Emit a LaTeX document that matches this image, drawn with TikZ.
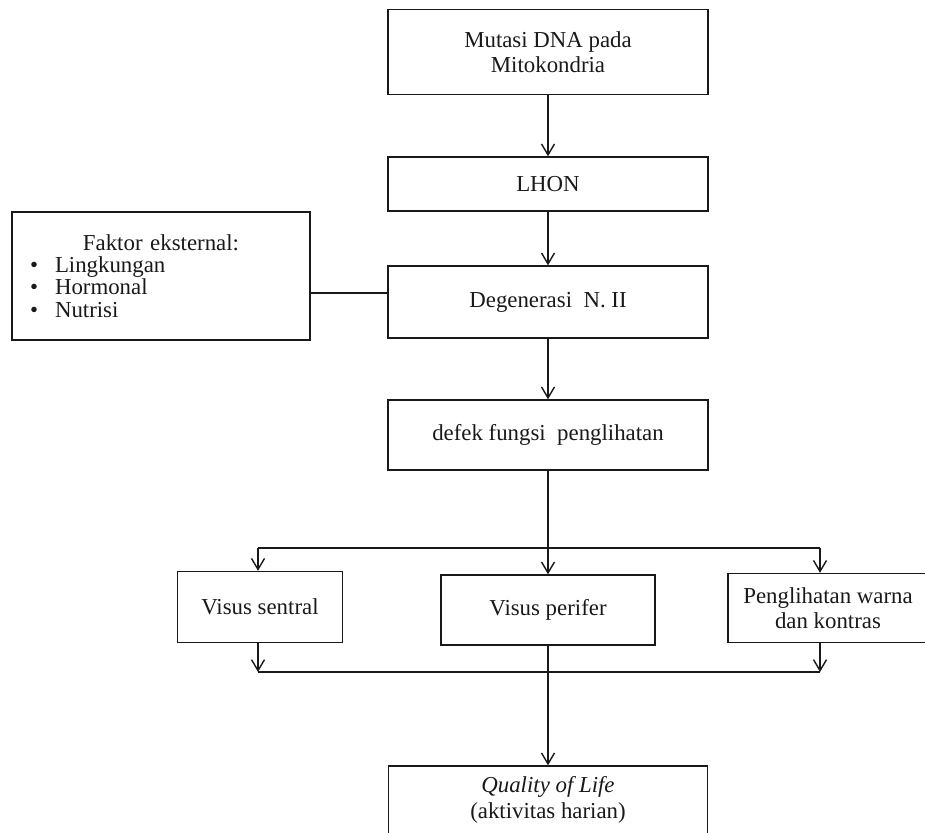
\documentclass[tikz,border=0pt]{standalone}
\usepackage{fontspec}
\setmainfont{Liberation Serif}
\usetikzlibrary{arrows.meta}

\tikzset{
  kotak/.style={draw, line width=0.8pt, inner sep=0pt, align=center, font=\fontsize{13}{14.5}\selectfont},
  panah/.style={-{Straight Barb[length=2.2mm,width=2.6mm]}},
}

\begin{document}
\begin{tikzpicture}[x=0.02cm, y=-0.02cm, line width=0.8pt, color=black!90] %satuan 1 = 1 piksel, sumbu y ke bawah

\useasboundingbox (0,0) rectangle (925,832);

%Titik bantu untuk garis cabang dan garis gabungan di bawah kotak defek fungsi penglihatan, serta titik sambung kotak faktor eksternal
%---------------------------------------------------
\coordinate (sambung) at (349,293);
\coordinate (cabangKiri) at (258,548);
\coordinate (cabangKanan) at (820,548);
\coordinate (gabungKiri) at (258,672);
\coordinate (gabungKanan) at (820,672);
%---------------------------------------------------

%Kotak-kotak utama di kolom tengah, dari atas ke bawah
%---------------------------------------------------
\node[kotak, minimum width=6.4cm, minimum height=1.7cm] (mutasi) at (548,52) {Mutasi DNA pada\\Mitokondria};
\node[kotak, minimum width=6.4cm, minimum height=1.08cm] (lhon) at (548,184) {LHON};
\node[kotak, minimum width=6.4cm, minimum height=1.44cm] (degenerasi) at (548,302) {Degenerasi\ \ N. II};
\node[kotak, minimum width=6.4cm, minimum height=1.4cm] (defek) at (548,435) {defek fungsi\ \ penglihatan};
%---------------------------------------------------

%Kotak faktor eksternal di sebelah kiri, judul di tengah dan daftar berpoin rata kiri
%---------------------------------------------------
\node[kotak, minimum width=5.96cm, minimum height=2.56cm, text width=5.24cm, inner xsep=0.36cm, align=left, font=\fontsize{13}{12.6}\selectfont] (faktor) at (161,276) {{\centering Faktor eksternal:\par}
\makebox[0.5cm][l]{\textbullet}Lingkungan\\
\makebox[0.5cm][l]{\textbullet}Hormonal\\
\makebox[0.5cm][l]{\textbullet}Nutrisi};
%---------------------------------------------------

%Tiga kotak cabang dan kotak hasil akhir
%---------------------------------------------------
\node[kotak, minimum width=3.3cm, minimum height=1.42cm] (sentral) at (260,607) {Visus sentral};
\node[kotak, minimum width=4.28cm, minimum height=1.4cm] (perifer) at (548,610) {Visus perifer};
\node[kotak, minimum width=4.0cm, minimum height=1.38cm] (warna) at (828,608) {Penglihatan warna\\dan kontras};
\node[kotak, minimum width=6.38cm, minimum height=1.36cm] (quality) at (548,800) {\textit{Quality of Life}\\(aktivitas harian)};
%---------------------------------------------------

%Panah-panah di kolom tengah dan garis dari faktor eksternal
%---------------------------------------------------
\draw[panah] (mutasi) -- (lhon);
\draw[panah] (lhon) -- (degenerasi);
\draw[panah] (degenerasi) -- (defek);
\draw (faktor.east |- sambung) -- (degenerasi.west |- sambung);
%---------------------------------------------------

%Cabang ke tiga kotak, lalu gabungan kembali ke kotak Quality of Life
%---------------------------------------------------
\draw[panah] (defek) -- (perifer);
\draw (cabangKiri) -- (cabangKanan);
\draw[panah] (cabangKiri) -- (cabangKiri |- sentral.north);
\draw[panah] (cabangKanan) -- (cabangKanan |- warna.north);
\draw[panah] (sentral.south -| gabungKiri) -- (gabungKiri);
\draw[panah] (warna.south -| gabungKanan) -- (gabungKanan);
\draw (gabungKiri) -- (gabungKanan);
\draw[panah] (perifer) -- (quality);
%---------------------------------------------------

\end{tikzpicture}
\end{document}
